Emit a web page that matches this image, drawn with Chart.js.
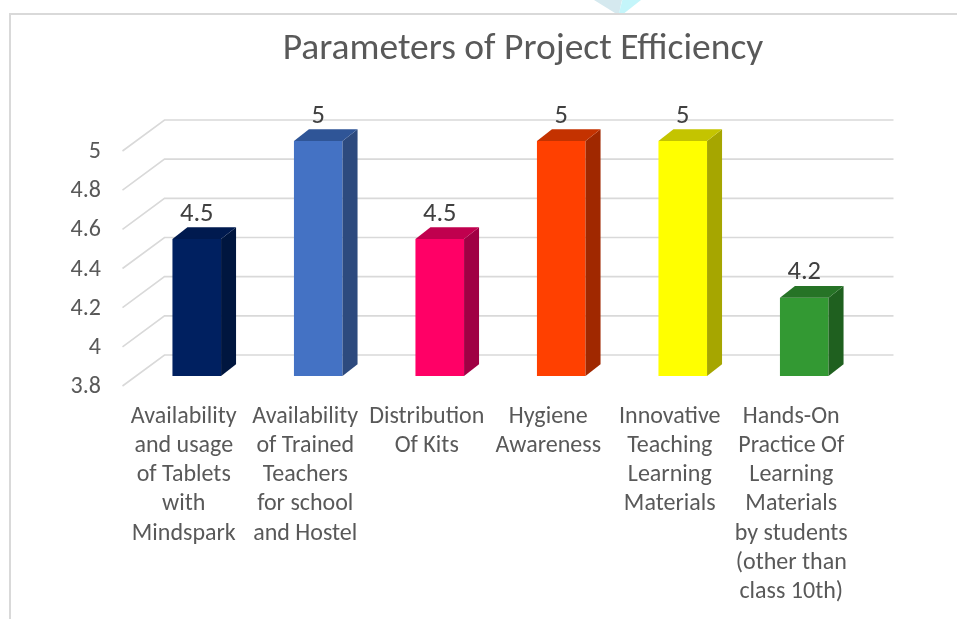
<!DOCTYPE html>
<html>
<head>
<meta charset="utf-8">
<script src="https://cdn.jsdelivr.net/npm/chart.js@4/dist/chart.umd.min.js"></script>
<style>
  html, body { margin: 0; padding: 0; background: #fff; }
  #wrap { position: relative; width: 957px; height: 619px; overflow: hidden; }
  #frame { position: absolute; left: 9px; top: 13px; width: 1000px; height: 700px;
           border-left: 2px solid #d9d9d9; border-top: 2px solid #d9d9d9; }
  #decoA { position: absolute; left: 594px; top: 0; width: 28px; height: 13px;
           background: #d5e9ef; clip-path: polygon(0 0, 100% 0, 90% 100%, 75% 100%); }
  #decoB { position: absolute; left: 619px; top: 0; width: 22px; height: 13px;
           background: #c4f5fa; clip-path: polygon(15% 0, 100% 0, 25% 100%, 0 100%); }
  #myCanvas { position: absolute; left: 0; top: 0; }
</style>
</head>
<body>
<div id="wrap">
  <div id="decoA"></div>
  <div id="decoB"></div>
  <div id="frame"></div>
  <canvas id="myCanvas" width="1046" height="619"></canvas>
</div>
<script>
const categories = [
  ["Availability", "and usage", "of Tablets", "with", "Mindspark"],
  ["Availability", "of Trained", "Teachers", "for school", "and Hostel"],
  ["Distribution", "Of Kits"],
  ["Hygiene", "Awareness"],
  ["Innovative", "Teaching", "Learning", "Materials"],
  ["Hands-On", "Practice Of", "Learning", "Materials", "by students", "(other than", "class 10th)"]
];
const scores = [4.5, 5, 4.5, 5, 5, 4.2];
const yTicks = [3.8, 4, 4.2, 4.4, 4.6, 4.8, 5];

const frontColors = ["#002060", "#4472c4", "#ff0066", "#ff4000", "#ffff00", "#339933"];
const topColors = ["#001a4f", "#2f5597", "#c0004e", "#c43200", "#c4c400", "#267326"];
const sideColors = ["#00163f", "#2d4a7e", "#a00044", "#a02800", "#a6a600", "#1f601f"];

const FONT = "Carlito, Lato, 'Open Sans', sans-serif";

// depth of the 3d box: floor front edge -> bar plane -> back wall
const FRONT_DX = 13.5, FRONT_DY = 10;
const BACK_DX = 28.5, BACK_DY = 21;
const BAR_DX = 15, BAR_DY = 11.7;

const box3d = {
  id: "box3d",
  beforeDatasetsDraw(chart) {
    const ctx = chart.ctx;
    const y = chart.scales.y;
    const area = chart.chartArea;
    ctx.save();
    ctx.strokeStyle = "#d9d9d9";
    ctx.lineWidth = 1.6;
    yTicks.forEach((v) => {
      const py = y.getPixelForValue(v);
      ctx.beginPath();
      ctx.moveTo(area.left - FRONT_DX, py + FRONT_DY);
      ctx.lineTo(area.left + BACK_DX, py - BACK_DY);
      ctx.lineTo(area.right + BACK_DX, py - BACK_DY);
      ctx.stroke();
    });
    ctx.restore();
  },
  afterDatasetsDraw(chart) {
    const ctx = chart.ctx;
    const meta = chart.getDatasetMeta(0);
    const floor = chart.scales.y.getPixelForValue(yTicks[0]);
    ctx.save();
    meta.data.forEach((bar, i) => {
      const l = bar.x - bar.width / 2;
      const r = bar.x + bar.width / 2;
      // side face
      ctx.fillStyle = sideColors[i];
      ctx.beginPath();
      ctx.moveTo(r, bar.y);
      ctx.lineTo(r + BAR_DX, bar.y - BAR_DY);
      ctx.lineTo(r + BAR_DX, floor - BAR_DY);
      ctx.lineTo(r, floor);
      ctx.closePath();
      ctx.fill();
      // top face
      ctx.fillStyle = topColors[i];
      ctx.beginPath();
      ctx.moveTo(l, bar.y);
      ctx.lineTo(r, bar.y);
      ctx.lineTo(r + BAR_DX, bar.y - BAR_DY);
      ctx.lineTo(l + BAR_DX, bar.y - BAR_DY);
      ctx.closePath();
      ctx.fill();
      // value label
      ctx.fillStyle = "#404040";
      ctx.font = "26.5px " + FONT;
      ctx.textAlign = "center";
      ctx.textBaseline = "middle";
      ctx.fillText(String(scores[i]), bar.x, bar.y - 25);
    });
    ctx.restore();
  }
};

const ctx = document.getElementById("myCanvas").getContext("2d");
new Chart(ctx, {
  type: "bar",
  data: {
    labels: categories,
    datasets: [
      {
        data: scores,
        base: 3.8,
        backgroundColor: frontColors,
        borderWidth: 0,
        barPercentage: 0.4,
        categoryPercentage: 1
      }
    ]
  },
  plugins: [box3d],
  options: {
    responsive: false,
    animation: false,
    layout: { padding: { left: 0, right: 0, top: 0, bottom: 0 } },
    plugins: {
      legend: { display: false },
      tooltip: { enabled: false },
      title: {
        display: true,
        text: "Parameters of Project Efficiency",
        color: "#595959",
        font: { family: FONT, size: 37.5, weight: "normal", lineHeight: 1.2 },
        padding: { top: 27.5, bottom: 68.5 }
      }
    },
    scales: {
      x: {
        grid: { display: false, drawTicks: false },
        border: { display: false },
        ticks: {
          color: "#595959",
          font: { family: FONT, size: 24, lineHeight: 1.22 },
          padding: 26,
          labelOffset: -13,
          maxRotation: 0,
          autoSkip: false
        },
        afterFit(scale) { scale.height = 243; }
      },
      y: {
        min: 3.8,
        max: 5,
        grid: { display: false, drawTicks: false },
        border: { display: false },
        afterBuildTicks(scale) { scale.ticks = yTicks.map((v) => ({ value: v })); },
        ticks: {
          color: "#595959",
          font: { family: FONT, size: 24 },
          padding: 35,
          labelOffset: 11,
          callback: (v) => String(v)
        },
        afterFit(scale) { scale.width = 136; }
      },
      // empty right-hand box so the title centres where the original does
      pad: {
        position: "right",
        min: 0,
        max: 1,
        grid: { display: false, drawTicks: false },
        border: { display: false },
        ticks: { display: false },
        afterFit(scale) { scale.width = 181; }
      }
    }
  }
});
</script>
</body>
</html>
